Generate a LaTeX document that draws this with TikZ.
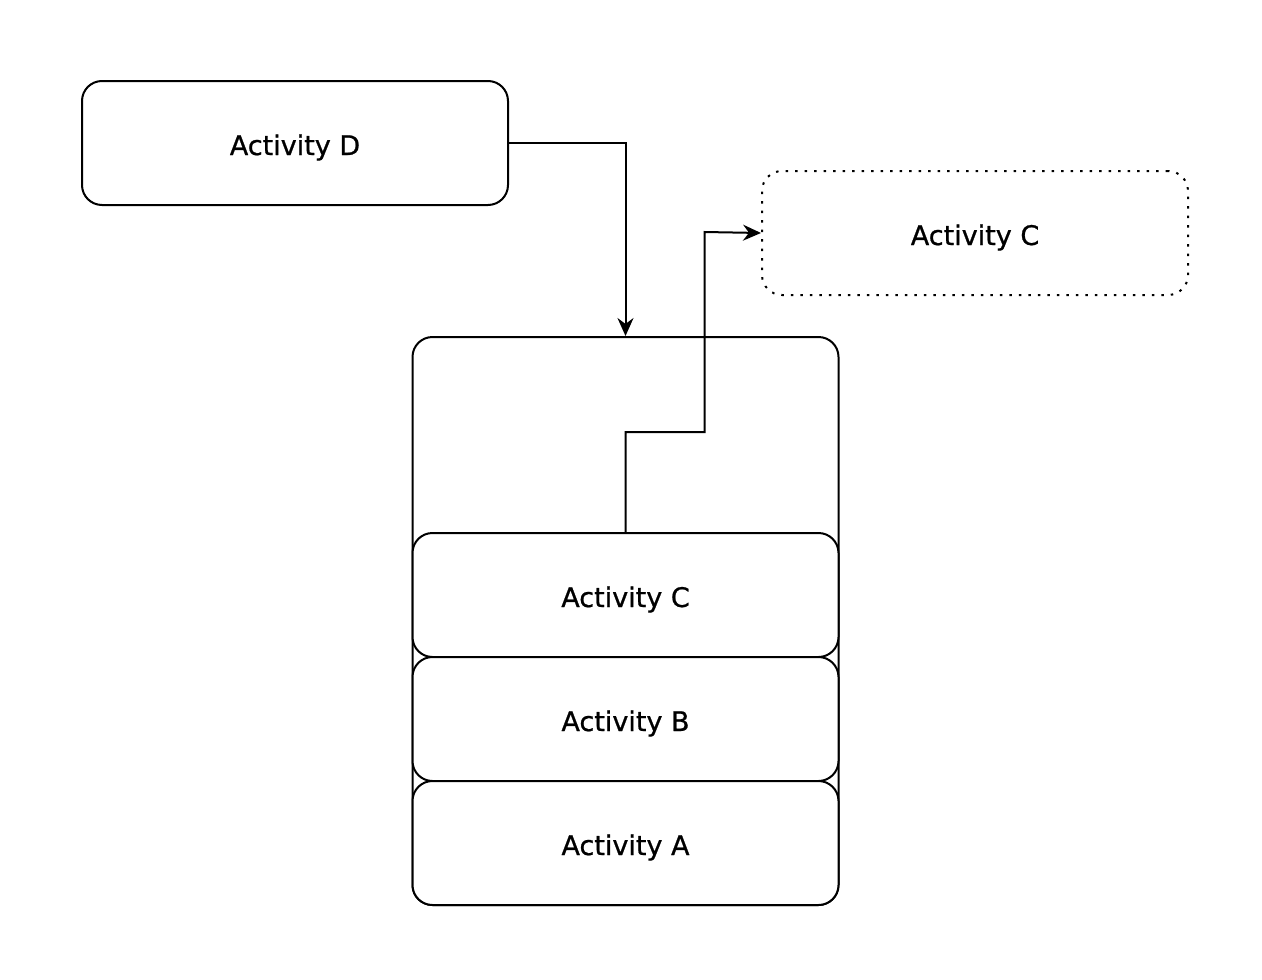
\documentclass[tikz,border=0pt]{standalone}
\usepackage{fontspec}
\setmainfont{DejaVu Sans}
\newfontfamily\labelfont{DejaVu Sans}[FakeBold=0.8]
\usetikzlibrary{arrows.meta}

\begin{document}
\begin{tikzpicture}[x=1pt,y=-1pt,line width=2pt,
	box/.style={draw,rounded corners=20pt,minimum width=426pt,minimum height=124pt,inner sep=0pt,text height=24pt,text depth=0pt,font=\labelfont\fontsize{27}{30}\selectfont},
	link/.style={-{Stealth[length=18pt,width=16pt,inset=6pt]}}]
\useasboundingbox (0,0) rectangle (1262,980);

%container
\node[draw,rounded corners=20pt,minimum width=426pt,minimum height=568pt,inner sep=0pt] (stack) at (625.5,621) {};

%boxes
\node[box] (D) at (295,143) {Activity D};
\node[box,dash pattern=on 2.5pt off 7pt] (Cout) at (975,233) {Activity C};
\node[box,fill=white] (C) at (625.5,595) {Activity C};
\node[box,fill=white] (B) at (625.5,719) {Activity B};
\node[box,fill=white] (A) at (625.5,843) {Activity A};

%edges
\draw[link] (D.east) -| (stack.north);
\draw[link] (C.north) -- ++(0,-100) -| ++(79,-200) -- (Cout.west);
\end{tikzpicture}
\end{document}
